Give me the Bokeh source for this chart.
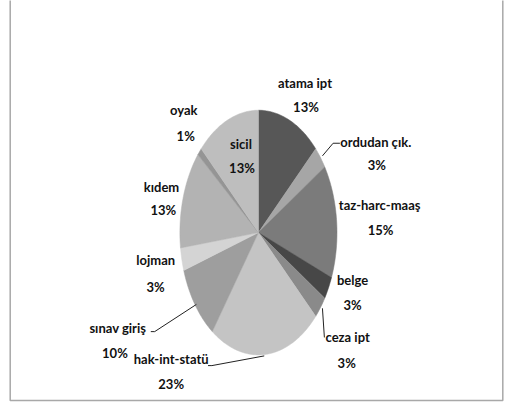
import math
from bokeh.plotting import figure
from bokeh.models import ColumnDataSource, Range1d
from bokeh.core.properties import value
from bokeh.embed import file_html
from bokeh.resources import INLINE

categories = ["atama ipt", "ordudan çık.", "taz-harc-maaş", "belge", "ceza ipt",
              "hak-int-statü", "sınav giriş", "lojman", "kıdem", "oyak", "sicil"]
percents = [13, 3, 15, 3, 3, 23, 10, 3, 13, 1, 13]
colors = ["#575757", "#a6a6a6", "#7b7b7b", "#474747", "#8a8a8a",
          "#c4c4c4", "#9e9e9e", "#d4d4d4", "#b3b3b3", "#959595", "#bebebe"]

# layout (reference-image pixel coordinates, y downwards)
cx, cy, rx, ry = 266, 239, 81, 126
name_pos = [(314, 85), (387, 146), (391, 211), (363, 288), (358, 347),
            (176, 369), (121, 337), (160, 267), (166, 192), (189, 113), (248, 148)]
pct_pos = [(315, 110), (388, 169), (392, 236), (363, 314), (357, 373),
           (176, 395), (118, 363), (160, 295), (168, 216), (191, 140), (249, 172)]
leaders = [
    ([332, 343, 350], [160, 147, 147]),   # ordudan
    ([332, 334], [317, 347]),             # ceza ipt
    ([214, 218, 272], [376, 376, 366]),   # hak-int-statü
    ([155, 159, 202], [341, 341, 313]),   # sınav giriş
]

p = figure(width=512, height=402, output_backend="svg", toolbar_location=None,
           x_range=Range1d(0, 528), y_range=Range1d(414, 0),
           min_border=0, outline_line_color=None, background_fill_color="white")
p.axis.visible = False
p.grid.visible = False

total = sum(percents)
xs, ys = [], []
acc = 0.0
for v in percents:
    a0 = acc / total * 2 * math.pi
    acc += v
    a1 = acc / total * 2 * math.pi
    n = max(3, int(v * 3))
    px, py = [cx], [cy]
    for i in range(n + 1):
        t = a0 + (a1 - a0) * i / n
        px.append(cx + rx * math.sin(t))
        py.append(cy - ry * math.cos(t))
    xs.append(px)
    ys.append(py)

src = ColumnDataSource(dict(xs=xs, ys=ys, color=colors))
p.patches("xs", "ys", fill_color="color", line_color="color", line_width=0.5, source=src)

for lx, ly in leaders:
    p.line(lx, ly, line_color="#222222", line_width=1)

lsrc = ColumnDataSource(dict(
    x=[q[0] for q in name_pos], y=[q[1] for q in name_pos], name=categories,
    x2=[q[0] for q in pct_pos], y2=[q[1] for q in pct_pos],
    pct=[f"{v}%" for v in percents]))
for col_x, col_y, col_t in (("x", "y", "name"), ("x2", "y2", "pct")):
    p.text(x=col_x, y=col_y, text=col_t, source=lsrc, text_align="center",
           text_baseline="middle", text_font=value("Lato"),
           text_font_style="bold", text_font_size="13px", text_color="#111111")

# chart frame (left, right, bottom edges)
p.line([10, 10, 518, 518], [-5, 412, 412, -5], line_color="#a8a8a8", line_width=1.5)

open("out.html", "w").write(file_html(p, INLINE))
